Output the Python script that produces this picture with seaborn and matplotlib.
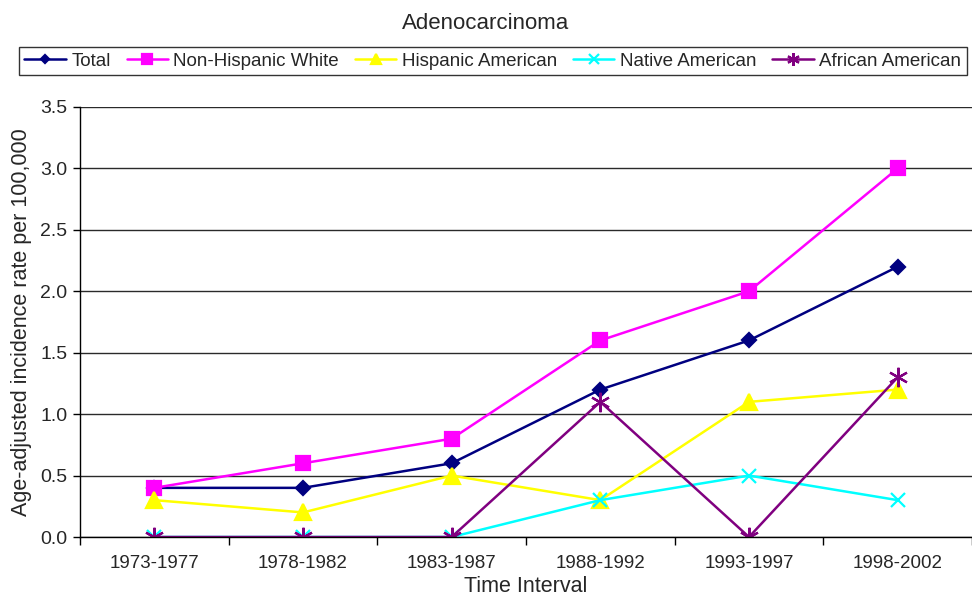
import pandas as pd
import numpy as np
import matplotlib.pyplot as plt
import seaborn as sns
from matplotlib.ticker import FixedLocator

# Daten aus der Abbildung
intervals = ['1973-1977', '1978-1982', '1983-1987', '1988-1992', '1993-1997', '1998-2002']
total = [0.4, 0.4, 0.6, 1.2, 1.6, 2.2]
non_hispanic_white = [0.4, 0.6, 0.8, 1.6, 2.0, 3.0]
hispanic_american = [0.3, 0.2, 0.5, 0.3, 1.1, 1.2]
native_american = [0.0, 0.0, 0.0, 0.3, 0.5, 0.3]
african_american = [0.0, 0.0, 0.0, 1.1, 0.0, 1.3]

series = {
    'Total': total,
    'Non-Hispanic White': non_hispanic_white,
    'Hispanic American': hispanic_american,
    'Native American': native_american,
    'African American': african_american,
}
colors = ['#000080', '#FF00FF', '#FFFF00', '#00FFFF', '#800080']
markers = ['D', 's', '^', 'x', (6, 2, 0)]
msizes = [7, 10, 11, 10, 14]

sns.set_style('white')
plt.rcParams['font.family'] = ['Liberation Sans', 'DejaVu Sans']

fig = plt.figure(figsize=(9.72, 6.0), dpi=100)
ax = fig.add_axes([0.0823, 0.105, 0.9177, 0.7167])

pos = np.arange(len(intervals))
for (name, vals), c, m, ms in zip(series.items(), colors, markers, msizes):
    sns.lineplot(x=pos, y=vals, ax=ax, color=c, marker=m, markersize=ms,
                 markeredgecolor=c, markeredgewidth=1.6, linewidth=1.8,
                 label=name, legend=False)

ax.set_ylim(0, 3.5)
ax.set_yticks(np.arange(0, 3.51, 0.5))
ax.set_yticklabels([f'{v:.1f}' for v in np.arange(0, 3.51, 0.5)])
ax.set_xlim(-0.5, len(intervals) - 0.5)
ax.set_xticks(pos)
ax.set_xticklabels(intervals)
ax.xaxis.set_minor_locator(FixedLocator(np.arange(-0.5, len(intervals), 1.0)))
ax.tick_params(axis='x', which='major', length=0, labelsize=13.5, pad=13)
ax.tick_params(axis='x', which='minor', length=6, width=1, color='black', direction='out', bottom=True)
ax.tick_params(axis='y', length=5, width=1, color='black', direction='out', left=True, labelsize=14, pad=4)

ax.yaxis.grid(True, color='#2a2a2a', linewidth=1)
ax.set_axisbelow(True)
for s in ['top', 'right']:
    ax.spines[s].set_visible(False)
for s in ['left', 'bottom']:
    ax.spines[s].set_color('black')
    ax.spines[s].set_linewidth(1)

ax.set_xlabel('Time Interval', fontsize=15.5, labelpad=3)
ax.set_ylabel('Age-adjusted incidence rate per 100,000', fontsize=15.5, labelpad=6)
fig.suptitle('Adenocarcinoma', x=0.5, y=0.978, fontsize=16)

handles, labels = ax.get_legend_handles_labels()
leg = fig.legend(handles, labels, loc='center', bbox_to_anchor=(0.507, 0.898), ncol=5,
                 fontsize=13.5, frameon=True, fancybox=False, handlelength=2.2,
                 markerscale=0.65, handletextpad=0.3, columnspacing=0.85,
                 borderpad=0.3, borderaxespad=0)
leg.get_frame().set_edgecolor('black')
leg.get_frame().set_linewidth(1)

plt.savefig('out.png', dpi=100)
